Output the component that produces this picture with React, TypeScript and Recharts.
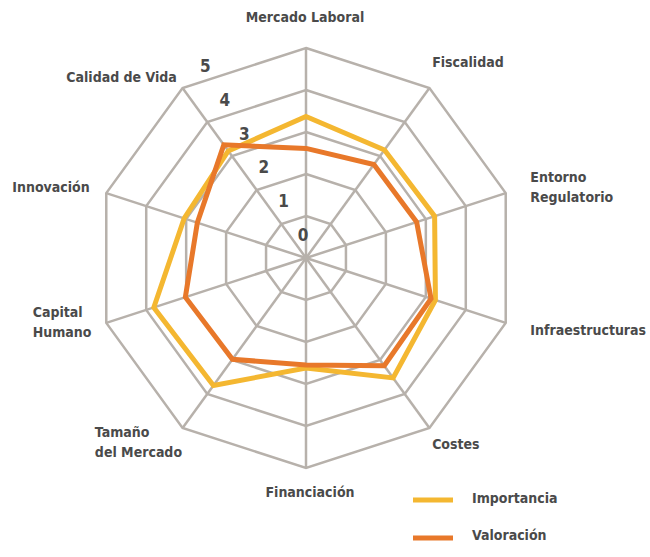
import { RadarChart, Radar, PolarGrid, PolarAngleAxis, PolarRadiusAxis, Legend } from 'recharts';

// factores evaluados (sentido horario desde arriba)
const factores = [
  'Mercado Laboral',
  'Fiscalidad',
  'Entorno\nRegulatorio',
  'Infraestructuras',
  'Costes',
  'Financiación',
  'Tamaño\ndel Mercado',
  'Capital\nHumano',
  'Innovación',
  'Calidad de Vida',
];
const importancia = [3.37, 3.18, 3.22, 3.24, 3.53, 2.62, 3.75, 3.81, 3.05, 3.15];
const valoracion = [2.61, 2.75, 2.77, 3.13, 3.17, 2.55, 2.98, 3.02, 2.72, 3.33];
const escala = [0, 1, 2, 3, 4, 5];

const data = factores.map((f, i) => ({
  factor: f,
  importancia: importancia[i],
  valoracion: valoracion[i],
}));

const CX = 306;
const CY = 258;
const FONT = '"Liberation Sans Narrow", "DejaVu Sans Condensed", "Open Sans", sans-serif';
const TEXT = '#4a4a4a';

// where each label sits relative to the axis end point
const labelPos: Record<number, { anchor: string; dx: number; dy: number }> = {
  0: { anchor: 'middle', dx: -1, dy: -23 },
  1: { anchor: 'start', dx: -2, dy: -20 },
  2: { anchor: 'start', dx: 17, dy: -14 },
  3: { anchor: 'start', dx: 17, dy: 5 },
  4: { anchor: 'start', dx: -2, dy: 10 },
  5: { anchor: 'middle', dx: 4, dy: 16 },
  6: { anchor: 'start', dx: -83, dy: -2 },
  7: { anchor: 'start', dx: -66, dy: -13 },
  8: { anchor: 'end', dx: -9, dy: -4 },
  9: { anchor: 'end', dx: -1, dy: -5 },
};

const AngleTick = (props: any) => {
  const { x, y, payload } = props;
  const idx = factores.indexOf(payload.value);
  const pos = labelPos[idx] || { anchor: 'middle', dx: 0, dy: 0 };
  const lines = String(payload.value).split('\n');
  return (
    <text
      x={x + pos.dx}
      y={y + pos.dy}
      textAnchor={pos.anchor}
      dominantBaseline="central"
      fill={TEXT}
      fontFamily={FONT}
      fontWeight="bold"
      fontSize={14}
    >
      {lines.map((l, i) => (
        <tspan key={i} x={x + pos.dx} dy={i === 0 ? 0 : 20}>
          {l}
        </tspan>
      ))}
    </text>
  );
};

const RadiusTick = (props: any) => {
  const { x, y, payload } = props;
  const tx = x - (x - CX) * 0.07 - 3;
  const ty = y - (y - CY) * 0.07 - 23;
  return (
    <text
      x={tx}
      y={ty}
      textAnchor="middle"
      dominantBaseline="central"
      fill={TEXT}
      fontFamily={FONT}
      fontWeight="bold"
      fontSize={17}
    >
      {payload.value}
    </text>
  );
};

const LegendBox = () => (
  <svg width={200} height={64}>
    <line x1={0} y1={14} x2={40} y2={14} stroke="#f4b731" strokeWidth={5} />
    <text x={59} y={12} dominantBaseline="central" fill={TEXT} fontFamily={FONT} fontWeight="bold" fontSize={14}>
      Importancia
    </text>
    <line x1={0} y1={52} x2={40} y2={52} stroke="#e8782a" strokeWidth={5} />
    <text x={59} y={49} dominantBaseline="central" fill={TEXT} fontFamily={FONT} fontWeight="bold" fontSize={14}>
      Valoración
    </text>
  </svg>
);

export default function App() {
  return (
    <div style={{ width: 650, height: 557, background: '#fff' }}>
      <style>{'body{margin:0}'}</style>
      <RadarChart width={650} height={557} data={data} cx={CX} cy={CY} outerRadius={210}>
        <PolarGrid stroke="#b7b1ab" strokeWidth={2.5} />
        <PolarAngleAxis dataKey="factor" tick={<AngleTick />} tickLine={false} axisLine={false} />
        <PolarRadiusAxis
          angle={120}
          domain={[0, 5]}
          ticks={escala as any}
          tickCount={6}
          axisLine={false}
          tickLine={false}
          tick={<RadiusTick />}
        />
        <Radar
          name="Importancia"
          dataKey="importancia"
          stroke="#f4b731"
          strokeWidth={5}
          fill="none"
          fillOpacity={0}
          dot={false}
          isAnimationActive={false}
        />
        <Radar
          name="Valoración"
          dataKey="valoracion"
          stroke="#e8782a"
          strokeWidth={5}
          fill="none"
          fillOpacity={0}
          dot={false}
          isAnimationActive={false}
        />
        <Legend content={<LegendBox />} wrapperStyle={{ left: 413, top: 486, width: 200, bottom: 'auto' }} />
      </RadarChart>
    </div>
  );
}
